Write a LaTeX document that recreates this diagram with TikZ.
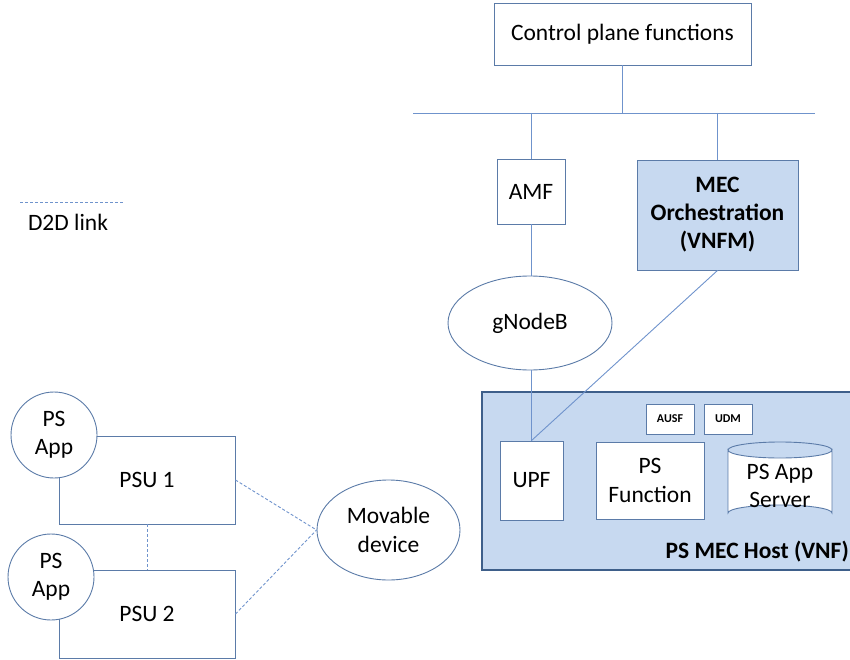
\documentclass[tikz,border=0pt]{standalone}
\usepackage{fontspec}
\setmainfont{Carlito}
\usetikzlibrary{shapes.geometric}
\definecolor{bd}{HTML}{5B7BA8}
\definecolor{ln}{HTML}{6F93CC}
\definecolor{fillb}{HTML}{C7D9F0}
\definecolor{hostbd}{HTML}{3E5F8A}
\begin{document}
\begin{tikzpicture}[x=1pt,y=-1pt,
  txt/.style={font=\fontsize{23.5}{28.5}\selectfont, align=center},
  box/.style={draw=bd, line width=0.9pt, fill=white, inner sep=0pt, txt},
  smallbox/.style={draw=bd, line width=0.9pt, fill=white, inner sep=0pt, font=\fontsize{12}{14}\selectfont\bfseries},
  oval/.style={ellipse, draw=bd, line width=0.9pt, fill=white, inner sep=0pt, txt},
  conn/.style={draw=ln, line width=0.9pt},
  d2d/.style={draw=ln, line width=0.9pt, dashed, dash pattern=on 3pt off 2pt}]
\useasboundingbox (0,0) rectangle (850,660);
\clip (0,0) rectangle (850,660);
% host
\node[draw=hostbd, line width=2.5pt, fill=fillb, minimum width=373pt, minimum height=178pt, inner sep=0pt] (host) at (668.5,481) {};
\node[txt, font=\fontsize{23.5}{28}\selectfont\bfseries, anchor=south east, inner sep=0pt] (hostlbl) at (849,562) {PS MEC Host (VNF)};
% top
\node[box, minimum width=257pt, minimum height=62pt] (cp) at (622.5,34) {Control plane functions};
\coordinate (busL) at (413,113);
\coordinate (busR) at (815,113);
\node[box, minimum width=68pt, minimum height=65pt] (amf) at (531,191.5) {AMF};
\node[box, fill=fillb, minimum width=161pt, minimum height=110pt, font=\fontsize{23.5}{28}\selectfont\bfseries] (mec) at (717.5,215) {MEC\\Orchestration\\(VNFM)};
\node[oval, minimum width=164pt, minimum height=94pt] (gnb) at (530,323) {gNodeB};
% host contents
\node[smallbox, minimum width=48pt, minimum height=30pt] (ausf) at (670,419) {AUSF};
\node[smallbox, minimum width=48pt, minimum height=30pt] (udm) at (728,419) {UDM};
\node[box, minimum width=63pt, minimum height=79pt] (upf) at (531.5,480.5) {UPF};
\node[box, minimum width=108pt, minimum height=77pt] (psf) at (650,480.5) {PS\\Function};
\draw[draw=bd, line width=0.9pt, fill=white] (728,450) -- (728,513) arc[start angle=180, end angle=360, x radius=52, y radius=8] -- (832,450) arc[start angle=0, end angle=180, x radius=52, y radius=8] -- cycle;
\draw[draw=bd, line width=0.9pt] (728,450) arc[start angle=180, end angle=360, x radius=52, y radius=8];
\node[txt, inner sep=0pt] (psas) at (780,486) {PS App\\Server};
% left
\node[oval, minimum width=143pt, minimum height=100pt] (mov) at (388.5,530) {Movable\\device};
\node[box, minimum width=176pt, minimum height=88pt] (psu1) at (147,480) {PSU 1};
\node[box, minimum width=176pt, minimum height=88pt] (psu2) at (147,614) {PSU 2};
\node[circle, draw=bd, line width=0.9pt, fill=white, inner sep=0pt, minimum size=86pt, txt] (app1) at (54,435) {PS\\App};
\node[circle, draw=bd, line width=0.9pt, fill=white, inner sep=0pt, minimum size=86pt, txt] (app2) at (51,577) {PS\\App};
% legend
\coordinate (legA) at (20,202);
\coordinate (legB) at (123,202);
\draw[d2d] (legA) -- (legB);
\node[txt, inner sep=0pt] (leg) at (68,222) {D2D link};
% connectors
\draw[conn] (busL) -- (busR);
\draw[conn] (cp.south) -- (cp.south |- busL);
\draw[conn] (amf.north |- busL) -- (amf.north);
\draw[conn] (mec.north |- busL) -- (mec.north);
\draw[conn] (amf.south) -- (gnb.north -| amf.south);
\draw[conn] (gnb.south -| upf.north) -- (upf.north);
\draw[conn] (mec.south) -- (upf.north);
\draw[d2d] (psu1.east) -- (mov.west);
\draw[d2d] (psu2.east) -- (mov.west);
\draw[d2d] (psu1.south) -- (psu2.north);
\end{tikzpicture}
\end{document}
